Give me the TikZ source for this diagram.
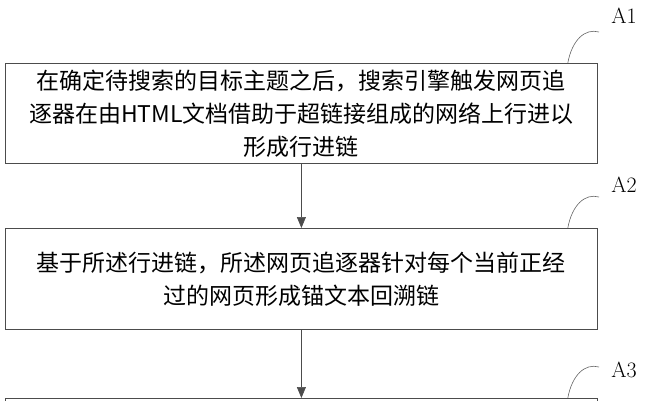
\documentclass[tikz,border=0pt]{standalone}
\usepackage{fontspec}
\newfontfamily\cjk{Noto Sans CJK SC}
\usetikzlibrary{arrows.meta,positioning}

\begin{document}
\begin{tikzpicture}[x=1pt,y=-1pt,
    stepbox/.style={draw=black!70, line width=0.8pt, minimum width=592pt, inner sep=0pt,
        align=center, font=\cjk\fontsize{23}{33}\selectfont, anchor=north west},
    tag/.style={font=\fontsize{22}{22}\selectfont},
    flow/.style={draw=black!70, line width=0.6pt, -{Triangle[length=11pt,width=9pt]}},
    hook/.style={draw=black!60, line width=0.6pt}]
    \useasboundingbox (0,0) rectangle (650,400);
    \fill[white] (0,0) rectangle (650,400);

    % steps
    \node[stepbox, minimum height=100pt] (s1) at (5,63)
        {在确定待搜索的目标主题之后，搜索引擎触发网页追\\
         逐器在由HTML文档借助于超链接组成的网络上行进以\\
         形成行进链};
    \node[stepbox, minimum height=101pt] (s2) at (5,228)
        {基于所述行进链，所述网页追逐器针对每个当前正经\\
         过的网页形成锚文本回溯链};
    \node[stepbox, minimum height=60pt] (s3) at (5,398) {};

    % arrows
    \draw[flow] (s1.south) -- (s2.north);
    \draw[flow] (s2.south) -- (s3.north);

    % labels
    \node[tag] (a1) at (624,16) {A1};
    \node[tag] (a2) at (624,185) {A2};
    \node[tag] (a3) at (624,370) {A3};
    \draw[hook] ([xshift=-30pt]s1.north east) .. controls (572,40) and (585,28) .. (599,32);
    \draw[hook] ([xshift=-30pt]s2.north east) .. controls (572,205) and (585,193) .. (599,197);
    \draw[hook] ([xshift=-30pt]s3.north east) .. controls (572,375) and (585,363) .. (599,367);
\end{tikzpicture}
\end{document}
